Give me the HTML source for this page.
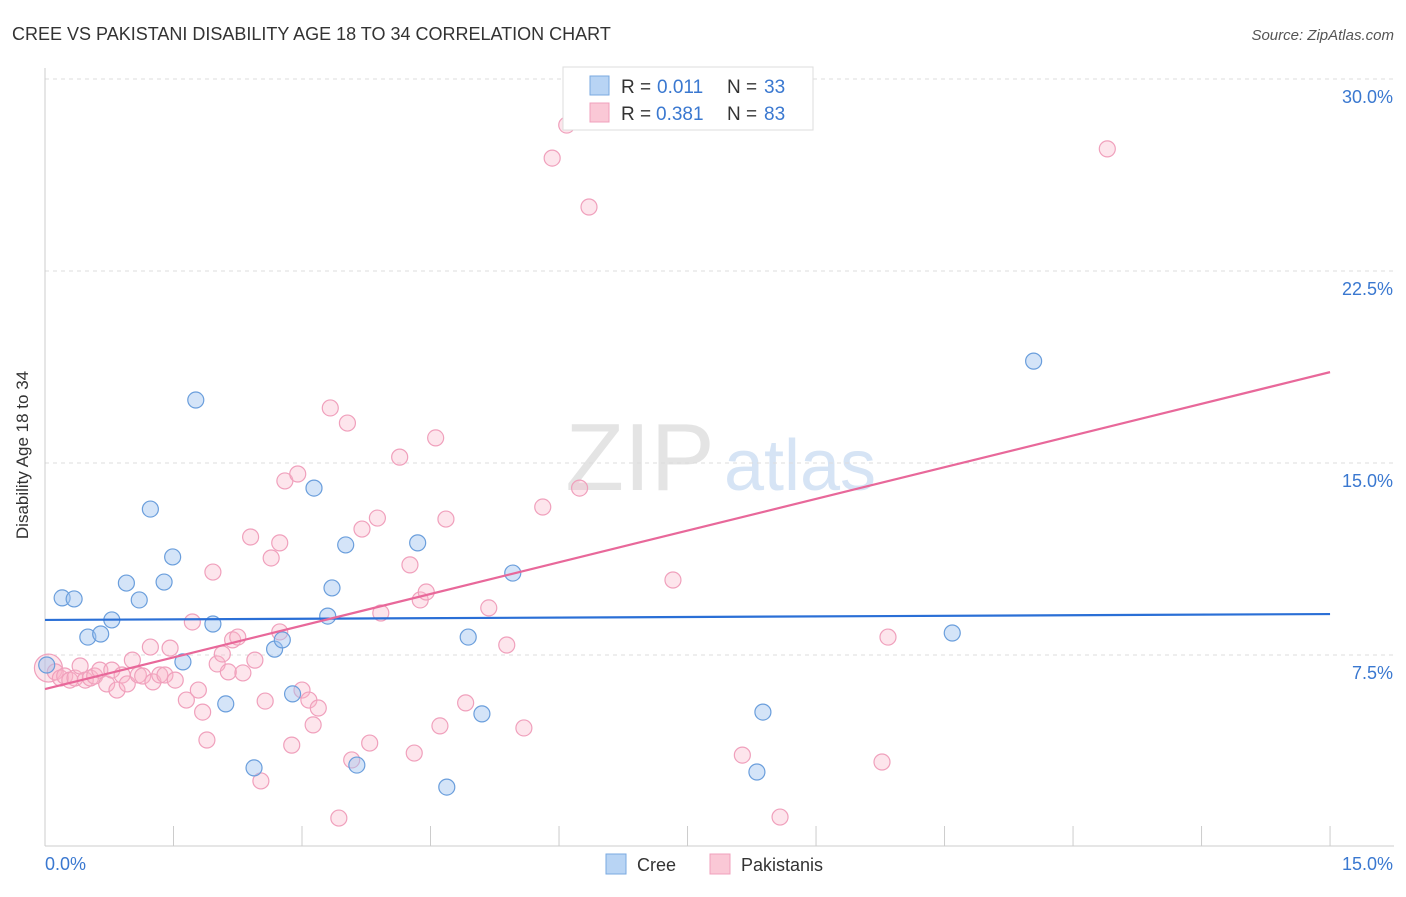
<!DOCTYPE html>
<html><head><meta charset="utf-8"><style>
body{margin:0;background:#fff;font-family:"Liberation Sans",sans-serif;}
svg text{font-family:"Liberation Sans",sans-serif;}
</style></head><body>
<svg width="1406" height="892" xmlns="http://www.w3.org/2000/svg">
<text x="12" y="40" font-size="18" fill="#333">CREE VS PAKISTANI DISABILITY AGE 18 TO 34 CORRELATION CHART</text>
<text x="1394" y="40" font-size="15" fill="#555" font-style="italic" text-anchor="end">Source: ZipAtlas.com</text>
<text x="640" y="490" font-size="96" fill="#e4e4e4" font-family="Liberation Serif" text-anchor="middle">ZIP</text>
<text x="800" y="490" font-size="72" fill="#d6e4f5" text-anchor="middle">atlas</text>
<g id="grid"></g><g id="axes"></g><g id="pts"></g><g id="lines"></g>
<text x="28" y="455" font-size="17" fill="#333" transform="rotate(-90 28 455)" text-anchor="middle">Disability Age 18 to 34</text>
<g>
<rect x="563" y="67" width="250" height="63" fill="#fff" stroke="#ddd"/>
<rect x="590" y="76" width="19" height="19" fill="#b8d4f4" stroke="#7aaae0"/>
<text y="93" font-size="19" fill="#333"><tspan x="621">R =</tspan><tspan x="657" fill="#3a78d0">0.011</tspan><tspan x="727">N =</tspan><tspan x="764" fill="#3a78d0">33</tspan></text>
<rect x="590" y="103" width="19" height="19" fill="#fac8d6" stroke="#f0a0bc"/>
<text y="120" font-size="19" fill="#333"><tspan x="621">R =</tspan><tspan x="656" fill="#3a78d0">0.381</tspan><tspan x="727">N =</tspan><tspan x="764" fill="#3a78d0">83</tspan></text>
</g>
<g>
<rect x="606" y="854" width="20" height="20" fill="#b8d4f4" stroke="#7aaae0"/>
<text x="637" y="871" font-size="18" fill="#333">Cree</text>
<rect x="710" y="854" width="20" height="20" fill="#fac8d6" stroke="#f0a0bc"/>
<text x="741" y="871" font-size="18" fill="#333">Pakistanis</text>
</g>
</svg>
<script>
const creeX=[0.02,0.20,0.34,0.50,0.65,0.78,0.95,1.10,1.23,1.39,1.49,1.61,1.76,1.96,2.11,2.44,2.68,2.77,2.89,3.14,3.30,3.35,3.51,3.64,4.35,4.69,4.94,5.10,5.46,8.31,8.38,10.59,11.54];
const creeY=[7.11,9.73,9.69,8.20,8.32,8.87,10.31,9.65,13.20,10.35,11.33,7.23,17.46,8.71,5.59,3.09,7.73,8.09,5.98,14.02,9.02,10.12,11.80,3.20,11.88,2.34,8.20,5.20,10.70,2.93,5.27,8.36,18.98];
const pakX=[0.04,0.12,0.18,0.23,0.29,0.35,0.41,0.47,0.53,0.58,0.64,0.72,0.78,0.84,0.90,0.96,1.02,1.09,1.14,1.23,1.26,1.34,1.40,1.46,1.52,1.65,1.72,1.79,1.84,1.89,1.96,2.01,2.07,2.14,2.19,2.25,2.31,2.40,2.45,2.57,2.52,2.64,2.74,2.74,2.80,2.88,2.95,3.00,3.08,3.13,3.19,3.33,3.43,3.53,3.58,3.70,3.79,3.88,3.92,4.14,4.26,4.31,4.38,4.45,4.56,4.61,4.68,4.91,5.18,5.39,5.59,5.81,5.92,6.09,6.24,6.35,7.33,8.14,8.58,9.77,9.84,12.40];
const pakY=[6.99,6.84,6.60,6.68,6.52,6.60,7.07,6.52,6.60,6.68,6.91,6.37,6.91,6.13,6.72,6.37,7.30,6.72,6.68,7.81,6.45,6.72,6.72,7.77,6.52,5.74,8.79,6.13,5.27,4.18,10.74,7.15,7.54,6.84,8.09,8.20,6.80,12.11,7.30,5.70,2.58,11.29,11.88,8.40,14.30,3.98,14.57,6.13,5.74,4.77,5.43,17.15,1.13,16.56,3.40,12.42,4.06,12.85,9.14,15.23,11.02,3.67,9.65,9.96,15.98,4.73,12.81,5.63,9.34,7.89,4.65,13.28,26.91,28.20,14.02,25.00,10.43,3.59,1.17,3.32,8.20,27.27];
const creeFit=[8.87,9.10];
const pakFit=[6.17,18.55];
const yTicks=[7.5,15,22.5,30];
const yTickLabels=["7.5%","15.0%","22.5%","30.0%"];
const xTicks=[0,1.5,3,4.5,6,7.5,9,10.5,12,13.5,15];
const NS="http://www.w3.org/2000/svg";
const X=v=>45+v*85.67, Y=v=>847-v*25.6;
function mk(p,t,a){const e=document.createElementNS(NS,t);for(const k in a)e.setAttribute(k,a[k]);document.getElementById(p).appendChild(e);return e;}
yTicks.forEach((t,i)=>{
 const g=mk('grid','line',{x1:45,x2:1394,y1:Y(t),y2:Y(t),stroke:'#ddd','stroke-dasharray':'4,4'});
 
 
 const l=mk('grid','text',{x:1393,y:Y(t)+24,'font-size':18,fill:'#3a78d0','text-anchor':'end'});
 l.textContent=yTickLabels[i];
 
 
});
const ax=mk('axes','line',{x1:45,x2:1394,y1:846,y2:846,stroke:'#ccc'});


const ay=mk('axes','line',{x1:45,x2:45,y1:68,y2:846,stroke:'#ccc'});


xTicks.forEach(t=>{const e=mk('axes','line',{x1:X(t),x2:X(t),y1:826,y2:846,stroke:'#ccc'});
 
 });
const x0=mk('axes','text',{x:45,y:870,'font-size':18,fill:'#3a78d0'});x0.textContent='0.0%';


const x1=mk('axes','text',{x:1393,y:870,'font-size':18,fill:'#3a78d0','text-anchor':'end'});x1.textContent='15.0%';


pakX.forEach((v,i)=>{const c=mk('pts','circle',{cx:X(v),cy:Y(pakY[i]),r:i==0?14:8,fill:'rgba(248,180,200,0.35)',stroke:'#f0a0bc','stroke-width':1.2});
 
 });
creeX.forEach((v,i)=>{const c=mk('pts','circle',{cx:X(v),cy:Y(creeY[i]),r:8,fill:'rgba(160,196,240,0.45)',stroke:'#6a9edc','stroke-width':1.2});
 
 });
const lb=mk('lines','line',{x1:X(0),x2:X(15),y1:Y(creeFit[0]),y2:Y(creeFit[1]),stroke:'#2a6fd6','stroke-width':2.2});


const lp=mk('lines','line',{x1:X(0),x2:X(15),y1:Y(pakFit[0]),y2:Y(pakFit[1]),stroke:'#e8689a','stroke-width':2.2});


</script>
</body></html>
